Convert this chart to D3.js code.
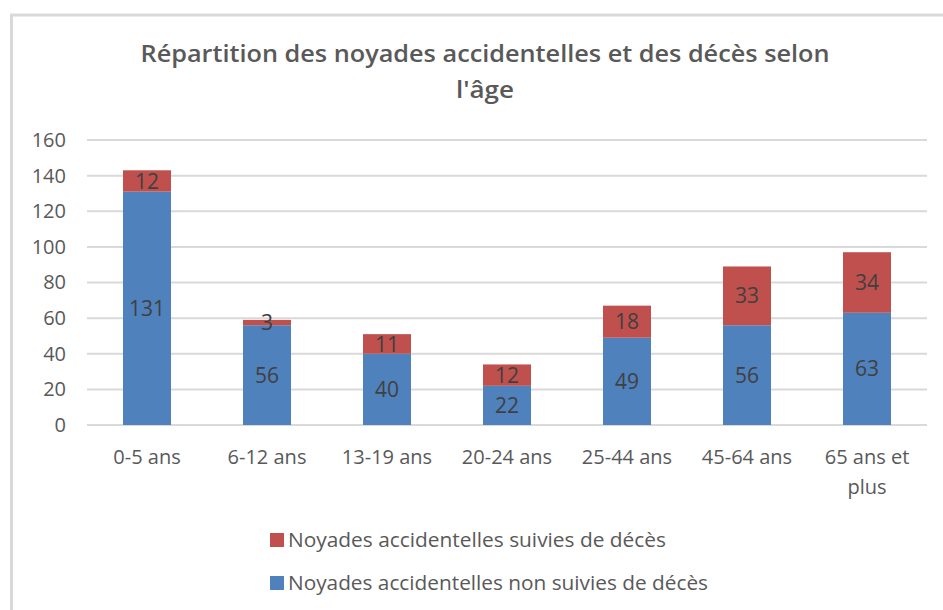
<!DOCTYPE html>
<html>
<head>
<meta charset="utf-8">
<script src="https://cdn.jsdelivr.net/npm/d3@7"></script>
<style>
  html, body { margin: 0; padding: 0; background: #fff; }
  svg { display: block; }
  text { font-family: "Liberation Sans Narrow", "Open Sans", "Noto Sans", sans-serif; }
</style>
</head>
<body>
<svg id="chart" width="943" height="610"></svg>
<script>
const categories = ["0-5 ans", "6-12 ans", "13-19 ans", "20-24 ans", "25-44 ans", "45-64 ans", "65 ans et plus"];
const nonDeces = [131, 56, 40, 22, 49, 56, 63];
const deces = [12, 3, 11, 12, 18, 33, 34];
const yTicks = [0, 20, 40, 60, 80, 100, 120, 140, 160];
const seriesNames = ["Noyades accidentelles non suivies de décès", "Noyades accidentelles suivies de décès"];
const colors = ["#4F81BD", "#C0504D"];
const titleLines = ["Répartition des noyades accidentelles et des décès selon", "l'âge"];

const svg = d3.select("#chart");

// frame
svg.append("rect").attr("x", 11.5).attr("y", 15).attr("width", 1000).attr("height", 1000)
  .attr("fill", "none").attr("stroke", "#D9D9D9").attr("stroke-width", 3);

// title
svg.append("text").attr("x", 485).attr("y", 62).attr("text-anchor", "middle")
  .attr("font-size", 24).attr("font-weight", 600).attr("fill", "#595959")
  .attr("textLength", 689).attr("lengthAdjust", "spacingAndGlyphs")
  .text(titleLines[0]);
svg.append("text").attr("x", 485).attr("y", 98).attr("text-anchor", "middle")
  .attr("font-size", 24).attr("font-weight", 600).attr("fill", "#595959")
  .attr("textLength", 58).attr("lengthAdjust", "spacingAndGlyphs")
  .text(titleLines[1]);

const x = d3.scaleBand().domain(categories).range([87, 927]).paddingInner(0.6).paddingOuter(0.3);
const y = d3.scaleLinear().domain([0, 160]).range([425, 140]);

// gridlines
svg.append("g").selectAll("line").data(yTicks).join("line")
  .attr("x1", 87).attr("x2", 927)
  .attr("y1", d => y(d)).attr("y2", d => y(d))
  .attr("stroke", "#D9D9D9").attr("stroke-width", 2);

// y axis labels
const yAxis = d3.axisLeft(y).tickValues(yTicks).tickSize(0).tickPadding(0);
const gy = svg.append("g").attr("transform", "translate(66,0)").call(yAxis);
gy.select(".domain").remove();
gy.selectAll("text").attr("font-size", 20).attr("fill", "#595959")
  .style("font-family", "'Liberation Sans Narrow', 'Open Sans', sans-serif");

// stacked data
const rows = categories.map((c, i) => ({cat: c, a: nonDeces[i], b: deces[i]}));
const stack = d3.stack().keys(["a", "b"])(rows);

svg.append("g").selectAll("g").data(stack).join("g")
  .attr("fill", (d, i) => colors[i])
  .selectAll("rect").data(d => d).join("rect")
  .attr("x", d => x(d.data.cat))
  .attr("y", d => y(d[1]))
  .attr("width", x.bandwidth())
  .attr("height", d => y(d[0]) - y(d[1]));

// data labels
const lbl = svg.append("g");
stack.forEach(s => {
  lbl.selectAll(null).data(s).join("text")
    .attr("x", d => x(d.data.cat) + x.bandwidth() / 2)
    .attr("y", d => (y(d[0]) + y(d[1])) / 2)
    .attr("dy", "0.36em")
    .attr("text-anchor", "middle")
    .attr("font-size", 21).attr("fill", "#404040")
    .text(d => d[1] - d[0]);
});

// x axis labels
const xl = svg.append("g");
categories.forEach(c => {
  const cx = x(c) + x.bandwidth() / 2;
  const lines = c === "65 ans et plus" ? ["65 ans et", "plus"] : [c];
  lines.forEach((ln, j) => {
    xl.append("text").attr("x", cx).attr("y", 457 + j * 30).attr("dy", "0.35em")
      .attr("text-anchor", "middle").attr("font-size", 20).attr("fill", "#595959")
      .text(ln);
  });
});

// legend
const legendItems = [{name: seriesNames[1], color: colors[1], y: 540, w: 378},
                     {name: seriesNames[0], color: colors[0], y: 583, w: 420}];
const lg = svg.append("g");
legendItems.forEach(it => {
  lg.append("rect").attr("x", 270).attr("y", it.y - 7).attr("width", 14).attr("height", 14).attr("fill", it.color);
  lg.append("text").attr("x", 288).attr("y", it.y).attr("dy", "0.35em")
    .attr("font-size", 20).attr("fill", "#595959")
    .attr("textLength", it.w).attr("lengthAdjust", "spacingAndGlyphs")
    .text(it.name);
});
</script>
</body>
</html>
